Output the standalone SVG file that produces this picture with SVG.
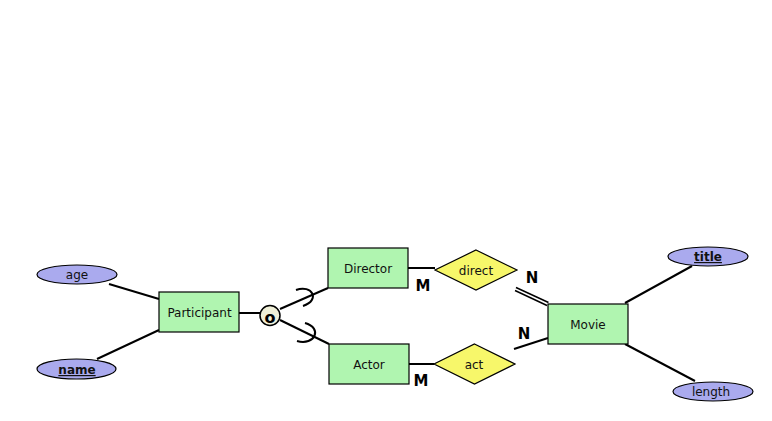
<svg xmlns="http://www.w3.org/2000/svg" width="772" height="421" viewBox="0 0 772 421">
<style>
.ent{fill:#b0f5b0;stroke:#000;stroke-width:1.2}
.att{fill:#aaaaee;stroke:#000;stroke-width:1.2}
.rel{fill:#f7f76a;stroke:#000;stroke-width:1.2}
.ln{stroke:#000;stroke-width:2;fill:none}
.t{font-family:"DejaVu Sans",sans-serif;font-size:12px;text-anchor:middle;fill:#111}
.k{font-weight:bold;text-decoration:underline}
.c{font-family:"DejaVu Sans",sans-serif;font-size:15px;font-weight:bold;text-anchor:middle;fill:#000}
</style>
<rect width="772" height="421" fill="#fff"/>
<g id="connectors">
<line class="ln" x1="109" y1="284" x2="159" y2="299"/>
<line class="ln" x1="97" y1="359" x2="159" y2="330"/>
<line class="ln" x1="239" y1="313" x2="260" y2="313"/>
<line class="ln" x1="280" y1="309" x2="328" y2="288"/>
<line class="ln" x1="280" y1="320" x2="329" y2="344"/>
<path class="ln" d="M296 290 C312 284, 321 300, 303 306"/>
<path class="ln" d="M305 323 C323 328, 315 346, 297 341"/>
<line class="ln" x1="408" y1="268" x2="435" y2="268"/>
<line class="ln" x1="409" y1="364" x2="434" y2="364"/>
<line class="ln" style="stroke-width:1.5" x1="516" y1="287.5" x2="548.5" y2="302.5"/>
<line class="ln" style="stroke-width:1.5" x1="515" y1="290.5" x2="547" y2="305.5"/>
<line class="ln" x1="514" y1="349" x2="548" y2="338"/>
<line class="ln" x1="625" y1="303" x2="692" y2="266"/>
<line class="ln" x1="625" y1="344" x2="695" y2="381"/>
</g>
<g id="age"><ellipse class="att" cx="77" cy="274.5" rx="40" ry="9.5"/><text class="t" x="77" y="279">age</text></g>
<g id="name"><ellipse class="att" cx="76.5" cy="369" rx="39.5" ry="10"/><text class="t k" x="77" y="374">name</text></g>
<g id="participant"><rect class="ent" x="159" y="292" width="80" height="40"/><text class="t" x="199.5" y="317">Participant</text></g>
<g id="overlap"><circle cx="270" cy="315.5" r="10" fill="#f0f0d8" stroke="#000" stroke-width="1.5"/><text class="c" style="font-size:16px" x="270" y="322.5">o</text></g>
<g id="director"><rect class="ent" x="328" y="248" width="80" height="40"/><text class="t" x="368" y="273">Director</text></g>
<g id="actor"><rect class="ent" x="329" y="344" width="80" height="40"/><text class="t" x="369" y="369">Actor</text></g>
<g id="direct"><polygon class="rel" points="476,250 517,270 476,290 435,270"/><text class="t" x="476" y="275">direct</text></g>
<g id="act"><polygon class="rel" points="474.5,344 515,364 474.5,384 434,364"/><text class="t" x="474" y="369">act</text></g>
<g id="movie"><rect class="ent" x="548" y="304" width="80" height="40"/><text class="t" x="588" y="329">Movie</text></g>
<g id="title"><ellipse class="att" cx="708" cy="256.5" rx="40" ry="9.5"/><text class="t k" x="708" y="261">title</text></g>
<g id="length"><ellipse class="att" cx="713" cy="391.5" rx="40" ry="9.5"/><text class="t" x="711" y="396">length</text></g>
<g id="labels">
<text class="c" x="423" y="290.5">M</text>
<text class="c" x="421" y="385.5">M</text>
<text class="c" x="532" y="282.5">N</text>
<text class="c" x="524" y="338.5">N</text>
</g>
</svg>
